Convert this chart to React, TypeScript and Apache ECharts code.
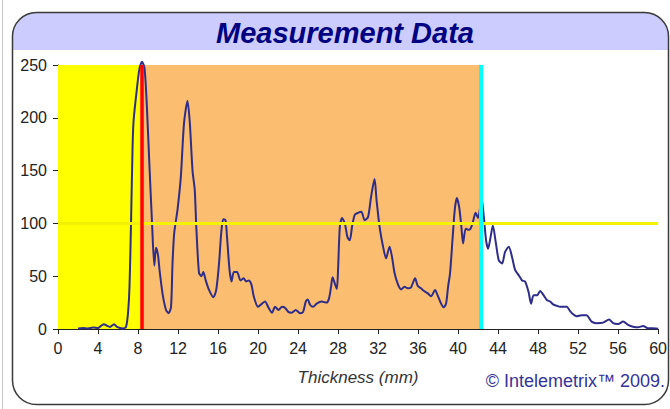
import React, { useEffect, useRef } from "react";
import * as echarts from "echarts";

const thickness = [
  2.0, 2.5, 3.0, 3.5, 4.0, 4.3, 4.6, 4.9, 5.2, 5.6, 5.9, 6.2, 6.5, 6.8, 7.0, 7.15, 7.3, 7.45, 7.55, 7.8,
  8.15, 8.4, 8.65, 8.88, 9.14, 9.4, 9.63, 9.8, 10.0, 10.15, 10.46, 10.8, 11.06, 11.3, 11.45, 11.62, 11.95,
  12.28, 12.6, 12.95, 13.18, 13.45, 13.67, 13.84, 14.1, 14.34, 14.53, 14.77, 15.1, 15.53, 15.82, 16.1,
  16.32, 16.52, 16.75, 16.9, 17.15, 17.35, 17.58, 17.9, 18.25, 18.57, 18.8, 19.07, 19.34, 19.57, 20.0,
  20.4, 20.7, 21.06, 21.4, 21.7, 22.05, 22.4, 22.7, 23.05, 23.37, 23.77, 24.2, 24.5, 24.77, 24.97, 25.2,
  25.5, 25.86, 26.35, 26.85, 27.1, 27.3, 27.45, 27.68, 27.88, 28.0, 28.18, 28.4, 28.68, 28.94, 29.17,
  29.4, 29.67, 30.0, 30.33, 30.66, 31.0, 31.3, 31.65, 31.85, 32.15, 32.5, 32.8, 33.15, 33.4, 33.65, 34.0,
  34.3, 34.65, 34.97, 35.3, 35.7, 35.96, 36.3, 36.6, 36.95, 37.3, 37.7, 37.95, 38.3, 38.55, 38.8, 39.0,
  39.2, 39.44, 39.67, 39.87, 40.1, 40.33, 40.5, 40.76, 41.0, 41.25, 41.5, 41.75, 42.0, 42.35, 42.58, 42.8,
  43.0, 43.25, 43.48, 43.74, 44.07, 44.4, 44.7, 45.07, 45.4, 45.7, 46.06, 46.4, 46.7, 47.05, 47.3, 47.55,
  47.9, 48.2, 48.55, 48.87, 49.2, 49.54, 49.87, 50.2, 50.5, 50.86, 51.2, 51.5, 51.85, 52.35, 52.85, 53.35,
  53.84, 54.5, 55.1, 55.5, 56.0, 56.5, 57.0, 57.5, 58.0, 58.5, 59.0, 59.5, 60.0,
];

const amplitude = [
  0.5, 1, 0.5, 1.5, 1, 3, 4.5, 3, 2, 4.5, 2, 1, 0.5, 2, 15, 40, 100, 170, 196, 220,
  247, 253, 247, 212, 155, 101, 60, 77, 70, 56, 33, 18, 15, 21, 62, 91, 113,
  144, 195, 216, 195, 150, 132, 94, 53, 50, 54, 46, 37, 30, 37, 62,
  91, 104, 103, 87, 56, 45, 54, 54, 46, 48, 45, 46, 42, 31, 21,
  24, 26, 20, 15.5, 21, 18, 21, 20, 16, 15.5, 18, 15, 16, 26, 28, 23,
  21, 24, 26, 25, 29, 40, 49, 43, 38, 56, 97, 105, 100, 87, 84,
  97, 108, 110, 111, 103, 106, 125, 142, 122, 97, 78, 67, 78, 68, 53, 42,
  37.5, 40, 38.5, 39.5, 48, 41, 38.5, 36, 34, 31, 37, 32, 24, 20.5, 24, 40,
  53, 84, 113, 124, 116, 97, 81, 95, 94, 95, 102, 110, 105, 124, 106, 84,
  76, 87, 98, 84, 65, 62, 73, 78, 68, 56, 51, 46, 45, 35, 24, 32,
  32, 36, 32, 27.5, 26, 23, 22, 21, 21, 21, 17, 14, 12, 13, 13, 7,
  5.5, 6, 9, 5.5, 4.7, 7, 4, 2.2, 1.6, 2.8, 0.7, 0.7, 0.3,
];

const xTicks = { min: 0, max: 60, interval: 4 };
const yTicks = { min: 0, max: 250, interval: 50 };

const frontWall = 8.35;
const backWall = 42.2;
const threshold = 100;

const titleText = "Measurement Data";
const xAxisName = "Thickness (mm)";
const copyright = "© Intelemetrix™ 2009.";

export default function App() {
  const ref = useRef<HTMLDivElement>(null);

  useEffect(() => {
    if (!ref.current) return;
    const chart = echarts.init(ref.current, null, { renderer: "svg" });
    const data = thickness.map((x, i) => [x, amplitude[i]]);
    const font = "'Liberation Sans', Arial, sans-serif";

    chart.setOption({
      animation: false,
      backgroundColor: "#ffffff",
      textStyle: { fontFamily: font },
      graphic: [
        {
          type: "line",
          shape: { x1: 2.5, y1: 0, x2: 2.5, y2: 409 },
          style: { stroke: "#c8c8c8", lineWidth: 1 },
          z: -10,
        },
        {
          type: "rect",
          shape: { x: 13, y: 13, width: 655, height: 37, r: [22, 22, 0, 0] },
          style: { fill: "#CCCCFF" },
          z: -5,
        },
        {
          type: "rect",
          shape: { x: 12.5, y: 12.5, width: 656, height: 392, r: 24 },
          style: { fill: "none", stroke: "#3a3a3a", lineWidth: 1.5 },
          z: -4,
        },
        {
          type: "text",
          x: 345,
          y: 33,
          style: {
            text: titleText,
            fill: "#000080",
            fontSize: 29,
            fontWeight: "bold",
            fontStyle: "italic",
            fontFamily: font,
            textAlign: "center",
            textVerticalAlign: "middle",
          },
        },
        {
          type: "text",
          x: 665,
          y: 381,
          style: {
            text: copyright,
            fill: "#333399",
            fontSize: 18,
            fontFamily: font,
            textAlign: "right",
            textVerticalAlign: "middle",
          },
        },
      ],
      grid: { left: 58, right: 8, top: 65, bottom: 80, containLabel: false },
      xAxis: {
        type: "value",
        min: xTicks.min,
        max: xTicks.max,
        interval: xTicks.interval,
        name: xAxisName,
        nameLocation: "middle",
        nameGap: 40,
        nameTextStyle: { fontSize: 17, fontStyle: "italic", color: "#333", fontFamily: font },
        axisLine: { onZero: false, lineStyle: { color: "#222", width: 1 } },
        axisTick: { show: true, length: 5, lineStyle: { color: "#222" } },
        axisLabel: { fontSize: 16, color: "#222", margin: 11, fontFamily: font },
        splitLine: { show: false },
      },
      yAxis: {
        type: "value",
        min: yTicks.min,
        max: yTicks.max,
        interval: yTicks.interval,
        axisLine: { show: true, lineStyle: { color: "#222", width: 1 } },
        axisTick: { show: true, length: 5, lineStyle: { color: "#222" } },
        axisLabel: { fontSize: 16, color: "#222", margin: 11, fontFamily: font },
        splitLine: { show: false },
      },
      series: [
        {
          type: "line",
          data,
          showSymbol: false,
          smooth: 0.25,
          clip: false,
          lineStyle: { color: "#2E2E8A", width: 2 },
          z: 3,
          markArea: {
            silent: true,
            data: [
              [{ xAxis: 0, itemStyle: { color: "#FFFF00" } }, { xAxis: frontWall }],
              [{ xAxis: frontWall, itemStyle: { color: "#FBBD6F" } }, { xAxis: backWall }],
            ],
          },
        },
        {
          type: "line",
          data: [],
          z: 6,
          markLine: {
            silent: true,
            symbol: "none",
            label: { show: false },
            data: [
              { yAxis: threshold, lineStyle: { color: "#F2F200", width: 3, type: "solid" } },
              { xAxis: frontWall, lineStyle: { color: "#FF0000", width: 3.5, type: "solid" } },
              { xAxis: backWall + 0.05, lineStyle: { color: "#00FFFF", width: 4, type: "solid" } },
            ],
          },
        },
      ],
    });

    return () => chart.dispose();
  }, []);

  return (
    <div
      ref={ref}
      style={{ position: "fixed", left: 0, top: 0, width: 670, height: 409 }}
    />
  );
}
